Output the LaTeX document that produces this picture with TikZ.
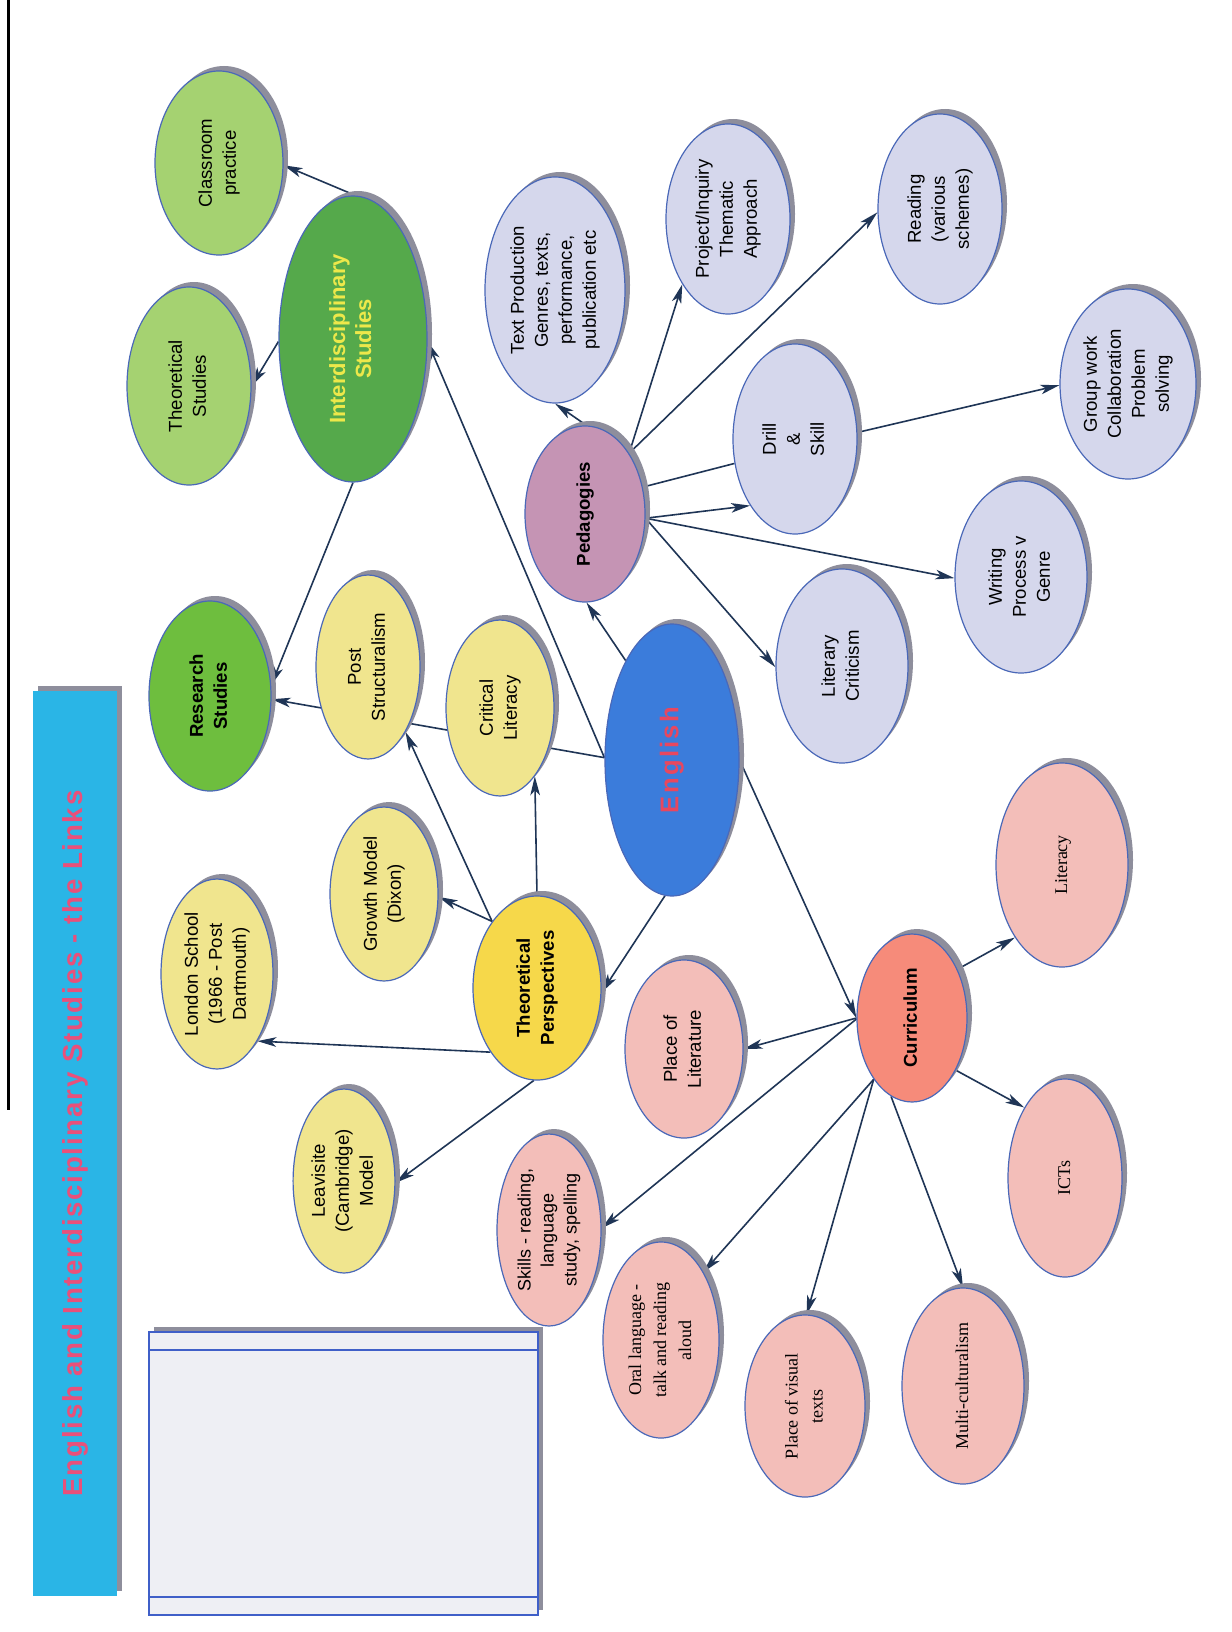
\documentclass[tikz,border=0pt]{standalone}
\usepackage{fontspec}
\usepackage{graphicx}
\setmainfont{Liberation Sans}
\newfontfamily\tnr{Liberation Serif}
\newfontfamily\spacedsans[LetterSpace=6.5]{Liberation Sans}
\newfontfamily\engsans[LetterSpace=9]{Liberation Sans}
\usetikzlibrary{arrows.meta,shadows,shapes.geometric}
\definecolor{ellborder}{HTML}{4A68B8}
\definecolor{shadowgray}{HTML}{8E8E9C}
\definecolor{arrowcol}{HTML}{1F3556}
\definecolor{lgreen}{HTML}{A5D271}
\definecolor{mgreen}{HTML}{55A94B}
\definecolor{rgreen}{HTML}{6EBE3E}
\definecolor{lav}{HTML}{D5D7EC}
\definecolor{mauve}{HTML}{C594B4}
\definecolor{pyellow}{HTML}{F0E58E}
\definecolor{gold}{HTML}{F6D84A}
\definecolor{engblue}{HTML}{3B7CDB}
\definecolor{engred}{HTML}{E8475F}
\definecolor{salmon}{HTML}{F68B7A}
\definecolor{pinkfill}{HTML}{F3BEB9}
\definecolor{titlecyan}{HTML}{2AB5E6}
\definecolor{titlepink}{HTML}{E9507A}
\definecolor{boxfill}{HTML}{EEEFF4}
\definecolor{boxline}{HTML}{3F5FC8}
\definecolor{idyellow}{HTML}{EDE84A}
\newcommand{\rtxt}[1]{\rotatebox{90}{\begin{tabular}{@{}c@{}}#1\end{tabular}}}
\pgfdeclarelayer{back}
\pgfdeclarelayer{edges}
\pgfsetlayers{back,edges,main}
\tikzset{
  bub/.style={ellipse, draw=ellborder, line width=0.6pt, inner sep=0pt,
    drop shadow={shadow xshift=2.5pt, shadow yshift=2.5pt, fill=shadowgray, opacity=1},
    font=\fontsize{9.3}{12}\selectfont},
  sz/.style 2 args={minimum width=#1pt, minimum height=#2pt},
  boldlbl/.style={font=\fontsize{9.3}{12}\selectfont\bfseries},
  serlbl/.style={font=\fontsize{9}{12.5}\selectfont\tnr},
  conn/.style={draw=arrowcol, line width=0.8pt},
  arr/.style={conn, -{Stealth[length=9.5pt,width=4.8pt,inset=2.5pt]}},
}
\begin{document}
\begin{tikzpicture}[x=0.5pt, y=-0.5pt]
\begin{pgfonlayer}{back}
\fill[white] (0,0) rectangle (1231,1632);
\end{pgfonlayer}
\useasboundingbox (0,0) rectangle (1231,1632);
\draw[black, line width=1.5pt] (8,0) -- (8,1110);

% title bar
\node[rectangle, fill=titlecyan, inner sep=0pt, minimum width=42pt, minimum height=452.5pt,
  drop shadow={shadow xshift=2.5pt, shadow yshift=2.5pt, fill=shadowgray, opacity=1}]
  (title) at (75,1143.5)
  {\rotatebox{90}{\fontsize{13.8}{18}\selectfont\spacedsans\bfseries\color{titlepink}English and Interdisciplinary Studies - the Links}};

% empty box
\node[rectangle, fill=boxfill, draw=boxline, line width=0.6pt, inner sep=0pt,
  minimum width=194.5pt, minimum height=141.5pt,
  drop shadow={shadow xshift=2.5pt, shadow yshift=2.5pt, fill=shadowgray, opacity=1}]
  (box) at (343.5,1473.5) {};
\draw[boxline, line width=0.6pt] (149,1350) -- (538,1350);
\draw[boxline, line width=0.6pt] (149,1597) -- (538,1597);

% green
\node[bub, fill=lgreen, sz={64}{92}] (cp) at (219,163) {\rtxt{Classroom\\practice}};
\node[bub, fill=lgreen, sz={62}{99}] (ts) at (189,386) {\rtxt{Theoretical\\Studies}};
\node[bub, fill=mgreen, sz={74}{143}, font=\fontsize{11}{13}\selectfont\bfseries, text=idyellow] (is) at (353,339) {\rtxt{Interdisciplinary\\Studies}};
\node[bub, fill=rgreen, sz={61}{95}, boldlbl] (rs) at (210,696) {\rtxt{Research\\Studies}};

% lavender
\node[bub, fill=lav, sz={70}{113}] (tp) at (555,290) {\rtxt{Text Production\\Genres, texts,\\performance,\\publication etc}};
\node[bub, fill=lav, sz={62}{95}] (pi) at (728,219) {\rtxt{Project/Inquiry\\Thematic\\Approach}};
\node[bub, fill=lav, sz={62}{95}] (rd) at (940,209) {\rtxt{Reading\\(various\\schemes)}};
\node[bub, fill=mauve, sz={60}{88}, boldlbl] (ped) at (585,514) {\rtxt{Pedagogies}};
\node[bub, fill=lav, sz={62}{95}] (ds) at (795,439) {\rtxt{Drill\\\&\\Skill}};
\node[bub, fill=lav, sz={68}{95}] (gw) at (1128,384) {\rtxt{Group work\\Collaboration\\Problem\\solving}};
\node[bub, fill=lav, sz={66}{96}] (wp) at (1021,577) {\rtxt{Writing\\Process v\\Genre}};
\node[bub, fill=lav, sz={66}{97}] (lc) at (842,666) {\rtxt{Literary\\Criticism}};

% yellow
\node[bub, fill=pyellow, sz={52}{92}] (ps) at (368,667) {\rtxt{Post\\Structuralism}};
\node[bub, fill=pyellow, sz={54}{88}] (cl) at (500,708) {\rtxt{Critical\\Literacy}};
\node[bub, fill=pyellow, sz={54}{87}] (gm) at (384,894) {\rtxt{Growth Model\\(Dixon)}};
\node[bub, fill=pyellow, sz={56}{95}] (ls) at (217,974) {\rtxt{London School\\(1966 - Post\\Dartmouth)}};
\node[bub, fill=pyellow, sz={49}{92}] (lv) at (344,1181) {\rtxt{Leavisite\\(Cambridge)\\Model}};
\node[bub, fill=gold, sz={64}{92}, boldlbl] (tpers) at (537,988) {\rtxt{Theoretical\\Perspectives}};

% English
\node[bub, fill=engblue, sz={67}{136}, font=\fontsize{12.8}{16}\selectfont\engsans\bfseries, text=engred] (eng) at (672,760) {\rtxt{English}};

% pink
\node[bub, fill=salmon, sz={55}{84}, boldlbl] (cur) at (912,1018) {\rtxt{Curriculum}};
\node[bub, fill=pinkfill, sz={59}{89}] (pl) at (684,1049) {\rtxt{Place of\\Literature}};
\node[bub, fill=pinkfill, sz={66}{102}, serlbl] (lit) at (1062,865) {\rtxt{Literacy}};
\node[bub, fill=pinkfill, sz={57}{99}, serlbl] (ict) at (1065,1178) {\rtxt{ICTs}};
\node[bub, fill=pinkfill, sz={52}{96}, font=\fontsize{9}{11.5}\selectfont] (sk) at (549,1230) {\rtxt{Skills - reading,\\language\\study, spelling}};
\node[bub, fill=pinkfill, sz={58}{98}, serlbl] (ol) at (661,1340) {\rtxt{Oral language -\\talk and reading\\aloud}};
\node[bub, fill=pinkfill, sz={60}{91}, serlbl] (pv) at (805,1406) {\rtxt{Place of visual\\texts}};
\node[bub, fill=pinkfill, sz={61}{98}, serlbl] (mc) at (963,1386) {\rtxt{Multi-culturalism}};

\begin{pgfonlayer}{edges}
\draw[arr] (is.89) -- (cp.-2);
\draw[arr] (is.182) -- (ts.0);
\draw[arr] (is.270) -- (rs.10);
\draw[arr] (eng.178) -- (is.-2);
\draw[arr] (eng.178) -- (rs.-3);
\draw[arr] (eng.115) -- (ped.271);
\draw[arr] (eng.267) -- (tpers.-4);
\draw[arr] (eng.0) -- (cur.180);
\draw[arr] (ped.89) -- (tp.270);
\draw[arr] (ped.54) -- (pi.235);
\draw[arr] (ped.54) -- (rd.183);
\draw[conn] (ped.25) -- (ds.202);
\draw[arr] (ped.-4) -- (ds.236);
\draw[arr] (ped.-4) -- (wp.181);
\draw[arr] (ped.-4) -- (lc.181);
\draw[arr] (ds.6) -- (gw.181);
\draw[arr] (tpers.90) -- (cl.-63);
\draw[arr] (tpers.124) -- (ps.-60);
\draw[arr] (tpers.124) -- (gm.-3);
\draw[arr] (tpers.234) -- (ls.-59);
\draw[arr] (tpers.268) -- (lv.-2);
\draw[arr] (cur.180) -- (pl.0);
\draw[arr] (cur.47) -- (lit.237);
\draw[arr] (cur.-50) -- (ict.120);
\draw[arr] (cur.181) -- (sk.2);
\draw[arr] (cur.238) -- (ol.58);
\draw[arr] (cur.238) -- (pv.89);
\draw[arr] (cur.255) -- (mc.90);
\end{pgfonlayer}
\end{tikzpicture}
\end{document}
